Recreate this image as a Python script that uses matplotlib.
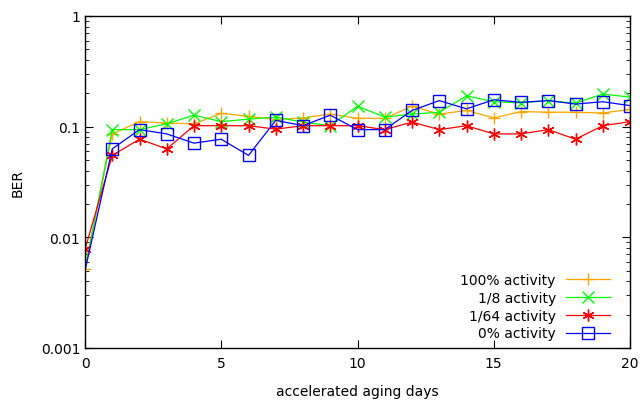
import matplotlib
matplotlib.use("Agg")
import matplotlib.pyplot as plt
import numpy as np

days = list(range(21))
act100 = [0.0052, 0.086, 0.111, 0.108, 0.106, 0.132, 0.124, 0.116, 0.120, 0.130, 0.119,
          0.119, 0.153, 0.130, 0.140, 0.120, 0.137, 0.135, 0.135, 0.133, 0.143]
act8 = [0.0052, 0.094, 0.094, 0.106, 0.127, 0.111, 0.117, 0.122, 0.110, 0.102, 0.153,
        0.122, 0.130, 0.135, 0.190, 0.168, 0.164, 0.172, 0.163, 0.197, 0.185]
act64 = [0.0078, 0.055, 0.077, 0.063, 0.102, 0.102, 0.102, 0.095, 0.102, 0.102, 0.102,
         0.094, 0.110, 0.094, 0.102, 0.086, 0.086, 0.094, 0.077, 0.102, 0.111]
act0 = [0.0050, 0.063, 0.094, 0.086, 0.071, 0.077, 0.055, 0.114, 0.102, 0.127, 0.094,
        0.094, 0.140, 0.172, 0.145, 0.175, 0.166, 0.172, 0.160, 0.168, 0.155]

labels = ["100% activity", "1/8 activity", "1/64 activity", "0% activity"]
colors = ["#FFA500", "#00FF00", "#FF0000", "#0000FF"]
markers = ["+", "x", (6, 2, 0), "s"]
first_marker = [0, 1, 0, 1]

plt.rcParams['font.family'] = ['DejaVu Sans']
fig = plt.figure(figsize=(6.41, 4.02), dpi=100)
ax = fig.add_axes([85/641, 1-349/402, (630-85)/641, (349-17)/402])

for ys, lab, c, m, f in zip([act100, act8, act64, act0], labels, colors, markers, first_marker):
    kw = dict(markersize=8.5, markeredgewidth=1.0, markeredgecolor=c)
    if m == "s":
        kw["markerfacecolor"] = "none"
        kw["markersize"] = 8
    ax.plot(days, ys, color=c, lw=0.9, marker=m, label=lab,
            markevery=list(range(f, len(days))), **kw)

ax.set_yscale('log')
ax.set_xlim(0, 20)
ax.set_ylim(0.001, 1)
ax.set_xticks([0, 5, 10, 15, 20])
ax.set_yticks([0.001, 0.01, 0.1, 1])
ax.set_yticklabels(["0.001", "0.01", "0.1", "1"])
ax.tick_params(direction='in', top=True, right=True, which='both', labelsize=10)
ax.tick_params(which='major', length=6)
ax.tick_params(which='minor', length=3)
ax.tick_params(axis='x', pad=6)
for s in ax.spines.values():
    s.set_linewidth(1.0)
ax.set_xlabel("accelerated aging days", fontsize=10, va='center')
ax.set_ylabel("BER", fontsize=10, va='center')
ax.xaxis.set_label_coords(0.5, -43/332)
ax.yaxis.set_label_coords(-67/545, 0.5)

leg = ax.legend(loc='lower right', frameon=False, markerfirst=False, fontsize=10,
                handlelength=3.2, labelspacing=0.27, borderaxespad=0.0, handletextpad=0.7,
                bbox_to_anchor=(1 - 14.5/545, 2/332))

fig.savefig("out.png", dpi=100)
